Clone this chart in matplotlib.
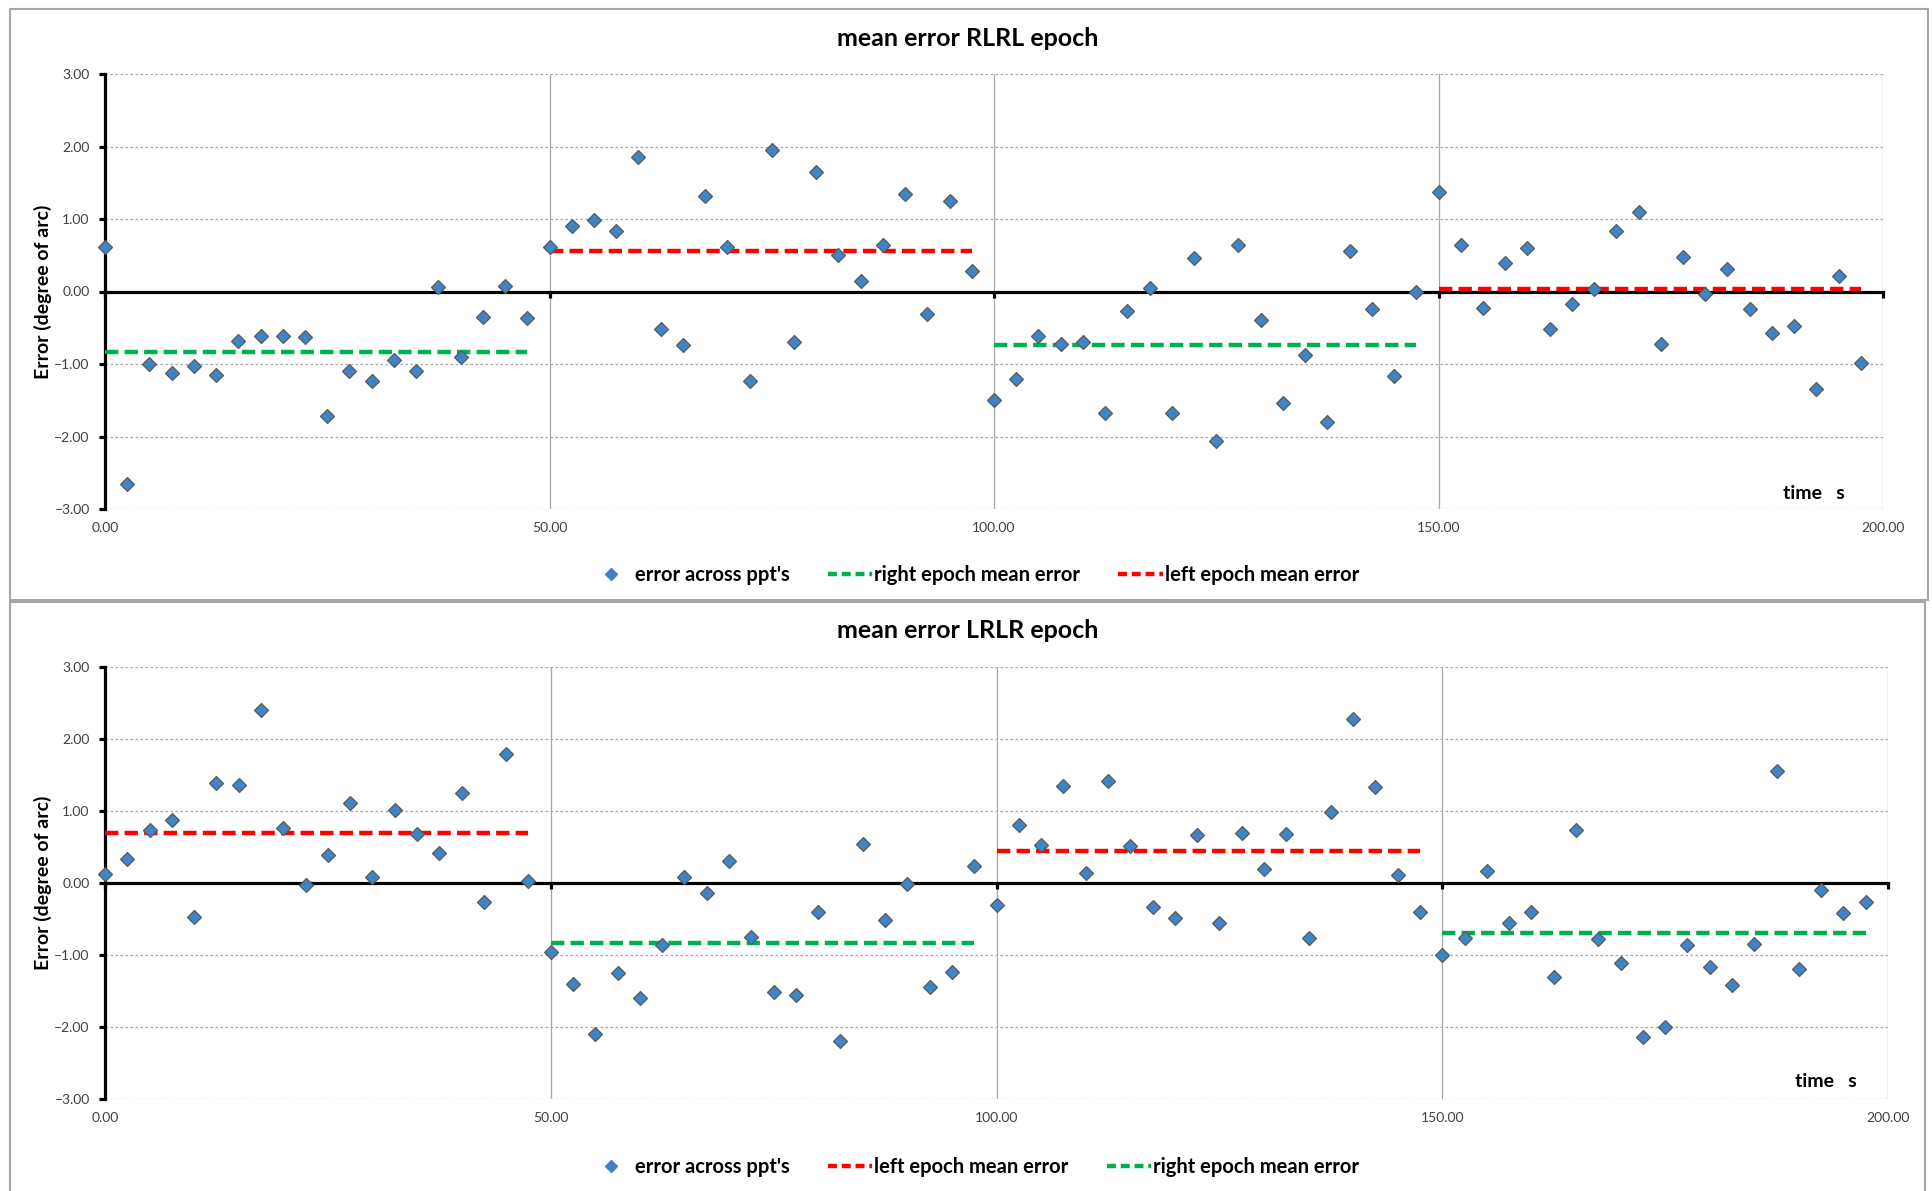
import numpy as np
import matplotlib
matplotlib.use("Agg")
import matplotlib.pyplot as plt
from matplotlib.lines import Line2D
from matplotlib.patches import Rectangle

plt.rcParams['font.family'] = ['Lato', 'DejaVu Sans']

# ---------------- data ----------------
time_s = np.arange(0, 200, 2.5)          # sample times (s)
x_ticks = [0, 50, 100, 150, 200]
y_ticks = [-3, -2, -1, 0, 1, 2, 3]

rlrl_error = [
    0.62, -2.66, -1.00, -1.13, -1.03, -1.15, -0.68, -0.62, -0.61, -0.63,
    -1.72, -1.09, -1.23, -0.95, -1.09, 0.06, -0.91, -0.35, 0.08, -0.37,
    0.61, 0.91, 0.99, 0.84, 1.85, -0.52, -0.74, 1.32, 0.61, -1.23,
    1.95, -0.69, 1.65, 0.50, 0.14, 0.64, 1.34, -0.31, 1.25, 0.28,
    -1.49, -1.21, -0.61, -0.73, -0.69, -1.67, -0.27, 0.05, -1.67, 0.46,
    -2.06, 0.64, -0.39, -1.54, -0.88, -1.80, 0.56, -0.24, -1.17, -0.01,
    1.37, 0.64, -0.23, 0.39, 0.60, -0.52, -0.17, 0.04, 0.84, 1.10,
    -0.73, 0.48, -0.04, 0.31, -0.24, -0.57, -0.48, -1.35, 0.21, -0.99,
]
lrlr_error = [
    0.13, 0.34, 0.73, 0.88, -0.47, 1.39, 1.36, 2.40, 0.76, -0.03,
    0.39, 1.11, 0.09, 1.02, 0.68, 0.41, 1.25, -0.26, 1.79, 0.03,
    -0.96, -1.40, -2.10, -1.25, -1.60, -0.86, 0.09, -0.14, 0.30, -0.75,
    -1.52, -1.56, -0.40, -2.20, 0.54, -0.52, -0.02, -1.45, -1.23, 0.24,
    -0.31, 0.80, 0.53, 1.35, 0.14, 1.41, 0.52, -0.33, -0.49, 0.67,
    -0.55, 0.70, 0.19, 0.68, -0.76, 0.99, 2.28, 1.33, 0.11, -0.40,
    -1.00, -0.76, 0.17, -0.56, -0.40, -1.30, 0.73, -0.78, -1.11, -2.14,
    -2.00, -0.86, -1.17, -1.41, -0.85, 1.56, -1.19, -0.10, -0.41, -0.27,
]

# epoch mean-error segments: (start, end, mean)
rlrl_right_epochs = [(0, 47.5, -0.83), (100, 147.5, -0.74)]
rlrl_left_epochs = [(50, 97.5, 0.565), (150, 197.5, 0.035)]
lrlr_left_epochs = [(0, 47.5, 0.69), (100, 147.5, 0.44)]
lrlr_right_epochs = [(50, 97.5, -0.84), (150, 197.5, -0.70)]

lbl_err = "error across ppt's"
lbl_right = "right epoch mean error"
lbl_left = "left epoch mean error"

# ---------------- style ----------------
BLUE = '#3D85C6'
EDGE = '#5A5A5A'
GREEN = '#00B050'
RED = '#FF0000'
GRID = '#A6A6A6'
TICKC = '#404040'

W, H = 1932, 1191
fig = plt.figure(figsize=(W / 100, H / 100), dpi=100)


def fx(px):
    return px / W


def fy(py):
    return 1 - py / H


def panel(rect, err, segs, title, title_y, ylab_y, legend_y, time_xy):
    ax = fig.add_axes(rect)
    ax.set_xlim(0, 200)
    ax.set_ylim(-3, 3)
    ax.set_xticks(x_ticks)
    ax.set_yticks(y_ticks)
    ax.yaxis.set_major_formatter(matplotlib.ticker.StrMethodFormatter('{x:.2f}'))
    for s in ('top', 'right'):
        ax.spines[s].set_visible(False)
    ax.spines['left'].set_linewidth(2.3)
    ax.spines['bottom'].set_linewidth(2.3)
    ax.spines['bottom'].set_position(('data', 0))
    ax.tick_params(axis='y', direction='out', length=4, width=2.3, color='black',
                   labelsize=10, labelcolor=TICKC, pad=7)
    ax.tick_params(axis='x', direction='out', length=4, width=2.3, color='black',
                   labelbottom=False)
    ax.yaxis.grid(True, linestyle=(0, (2, 2)), color=GRID, linewidth=0.9)
    ax.xaxis.grid(True, linestyle='-', color=GRID, linewidth=0.9)
    ax.set_axisbelow(True)

    sec = ax.secondary_xaxis(0)
    sec.set_xticks(x_ticks)
    sec.xaxis.set_major_formatter(matplotlib.ticker.StrMethodFormatter('{x:.2f}'))
    sec.tick_params(length=0, pad=9, labelsize=10, labelcolor=TICKC)
    sec.spines['bottom'].set_visible(False)

    ax.plot(time_s, err, ls='none', marker='D', ms=7.5, mfc=BLUE, mec=EDGE,
            mew=0.9, zorder=4, clip_on=False)
    handles = {}
    for color, lst, lbl in segs:
        for (a, b, m) in lst:
            ax.plot([a, b], [m, m], color=color, lw=3.2, dashes=(3.0, 1.4),
                    solid_capstyle='butt', dash_capstyle='butt', zorder=3)
        handles[lbl] = Line2D([], [], color=color, lw=3.2, dashes=(2.0, 1.1))

    ax.text(time_xy[0], time_xy[1], 'time   s', ha='right', va='center',
            fontsize=14, fontweight='bold')

    fig.text(0.501, title_y, title, ha='center', va='center', fontsize=18,
             fontweight='bold')
    fig.text(fx(43), ylab_y, 'Error (degree of arc)', rotation=90, ha='center',
             va='center', fontsize=14, fontweight='bold')

    h_err = Line2D([], [], ls='none', marker='D', ms=6.5, mfc=BLUE, mec=BLUE)
    hs = [h_err] + [handles[l] for _, _, l in segs]
    ls = [lbl_err] + [l for _, _, l in segs]
    fig.legend(hs, ls, loc='center', bbox_to_anchor=(0.504, legend_y), ncol=3,
               frameon=False, prop={'size': 14.5, 'weight': 'bold'},
               handlelength=2.2, handletextpad=0.1, columnspacing=1.9)
    return ax


panel([fx(105), fy(509), fx(1883) - fx(105), fy(74) - fy(509)],
      rlrl_error,
      [(GREEN, rlrl_right_epochs, lbl_right), (RED, rlrl_left_epochs, lbl_left)],
      'mean error RLRL epoch', fy(38), fy(292), fy(575), (195.7, -2.78))

panel([fx(105), fy(1099), fx(1888) - fx(105), fy(667) - fy(1099)],
      lrlr_error,
      [(RED, lrlr_left_epochs, lbl_left), (GREEN, lrlr_right_epochs, lbl_right)],
      'mean error LRLR epoch', fy(631), fy(883), fy(1167), (196.5, -2.76))

# chart-area borders
fig.patches.append(Rectangle((fx(10), fy(600)), fx(1928) - fx(10), fy(9) - fy(600),
                             fill=False, edgecolor=GRID, lw=1.5,
                             transform=fig.transFigure, figure=fig))
fig.patches.append(Rectangle((fx(10), fy(1200)), fx(1925) - fx(10), fy(602) - fy(1200),
                             fill=False, edgecolor=GRID, lw=1.5,
                             transform=fig.transFigure, figure=fig))

fig.savefig('out.png', dpi=100)
